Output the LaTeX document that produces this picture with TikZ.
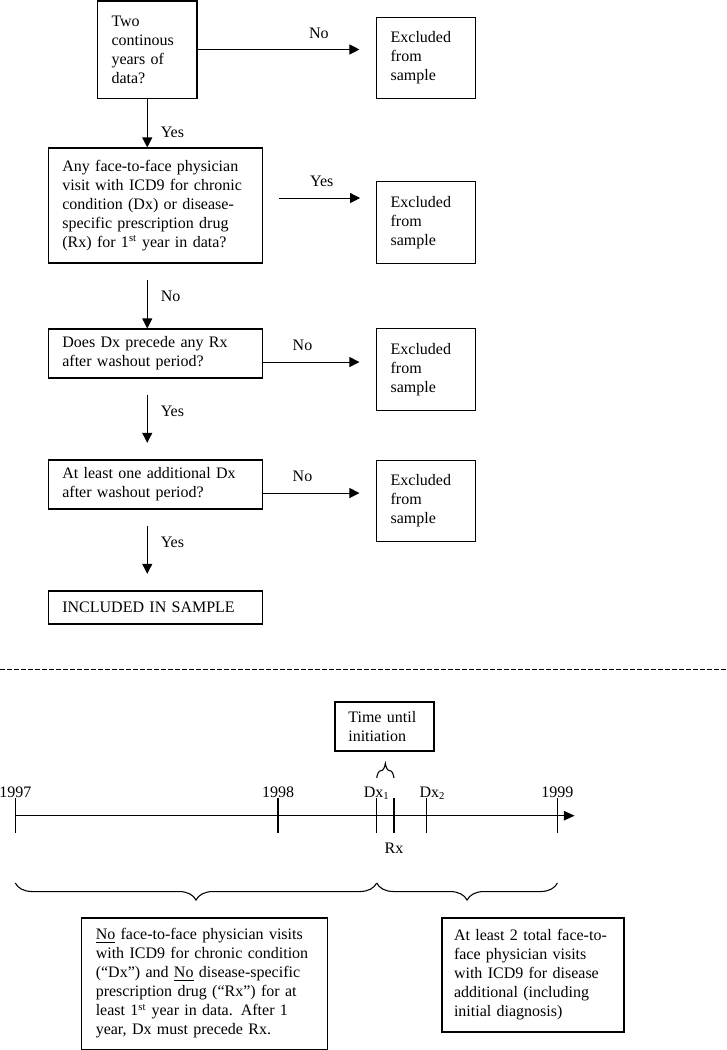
\documentclass[tikz,border=0pt]{standalone}
\usepackage{fontspec}
\setmainfont{Liberation Serif}
\usetikzlibrary{positioning, arrows.meta, decorations.pathreplacing}

\begin{document}
\begin{tikzpicture}[x=0.75pt, y=-0.75pt, font=\fontsize{12}{14.25}\selectfont,
    box/.style={draw, rectangle, line width=0.8pt, align=left, inner xsep=10.5pt, inner ysep=0pt},
    exbox/.style={box, text width=53.2pt, minimum height=61pt},
    flow/.style={line width=0.8pt, -{Triangle[length=7.5pt, width=7.5pt]}},
    lbl/.style={inner sep=2pt},
    tick/.style={line width=0.8pt},
    yr/.style={anchor=base, inner sep=0pt},
    brace/.style={decorate, decoration={brace, amplitude=#1}, line width=0.8pt},
    brace/.default=12.75pt]
        \useasboundingbox (0,0) rectangle (727,1050);

        \node[box, text width=53.6pt, minimum height=72.8pt] (q1) at (147.25,49.5) {Two\\continous\\years of\\data?};
        \node[box, text width=139.5pt, minimum height=86.25pt] (q2) at (155.35,205.5) {Any face-to-face physician\\visit with ICD9 for chronic\\condition (Dx) or disease-\\specific prescription drug\\(Rx) for 1\textsuperscript{st} year in data?};
        \node[box, text width=139.5pt, minimum height=36.75pt] (q3) at (155.35,353.5) {Does Dx precede any Rx\\after washout period?};
        \node[box, text width=139.5pt, minimum height=36.75pt] (q4) at (155.35,484.5) {At least one additional Dx\\after washout period?};
        \node[box, text width=139.5pt, minimum height=24.75pt] (incl) at (155.35,607.5) {INCLUDED IN SAMPLE};

        \node[exbox] (ex1) at (426.1,58) {Excluded\\from\\sample};
        \node[exbox] (ex2) at (426.1,222.5) {Excluded\\from\\sample};
        \node[exbox] (ex3) at (426.1,369.5) {Excluded\\from\\sample};
        \node[exbox] (ex4) at (426.1,501) {Excluded\\from\\sample};

        \coordinate (spine) at (147.25,0);

        \draw[flow, shorten >=12.5pt] (q1.east) -- node[lbl, above=6pt, pos=0.68] {No} (q1.east -| ex1.west);
        \draw[flow, shorten <=12pt, shorten >=12pt] ([yshift=5.6pt]q2.east) -- node[lbl, above=6pt, pos=0.52] {Yes} ([yshift=5.6pt]q2.east -| ex2.west);
        \draw[flow, shorten >=12.5pt] ([yshift=-6.4pt]q3.east) -- node[lbl, above=6pt, pos=0.35] {No} ([yshift=-6.4pt]q3.east -| ex3.west);
        \draw[flow, shorten >=12.5pt] ([yshift=-6.4pt]q4.east) -- node[lbl, above=6pt, pos=0.35] {No} ([yshift=-6.4pt]q4.east -| ex4.west);

        \draw[flow] (q1.south) -- node[lbl, right=7.75pt, pos=0.69] {Yes} (spine |- q2.north);
        \draw[flow, shorten <=12pt] (spine |- q2.south) -- node[lbl, right=7.75pt, pos=0.5] {No} (spine |- q3.north);
        \draw[flow, shorten <=12pt, shorten >=12.5pt] (spine |- q3.south) -- node[lbl, right=7.75pt, pos=0.4] {Yes} (spine |- q4.north);
        \draw[flow, shorten <=12pt, shorten >=12.5pt] (spine |- q4.south) -- node[lbl, right=7.75pt, pos=0.41] {Yes} (spine |- incl.north);

        \draw[line width=0.6pt, dash pattern=on 3.5pt off 1.75pt] (0,669) -- (727,669);

        \coordinate (y97) at (15.3,815.7);
        \coordinate (y98) at (278,815.7);
        \coordinate (dx1) at (376.7,815.7);
        \coordinate (rx) at (394,815.7);
        \coordinate (dx2) at (426.4,815.7);
        \coordinate (y99) at (557.4,815.7);
        \coordinate (tend) at (574.6,815.7);

        \draw[line width=0.9pt, -{Triangle[length=8pt, width=7pt]}] (y97) -- (tend);
        \foreach \t in {y97,y98,dx1,rx,dx2,y99}
            \draw[tick] ([yshift=13pt]\t) -- ([yshift=-13pt]\t);

        \node[yr] (l97) at ([yshift=14pt]y97) {1997};
        \node[yr] (l98) at ([yshift=14pt]y98) {1998};
        \node[yr] (ldx1) at ([yshift=14pt]dx1) {Dx\textsubscript{1}};
        \node[yr] (ldx2) at ([yshift=14pt, xshift=4.5pt]dx2) {Dx\textsubscript{2}};
        \node[yr] (l99) at ([yshift=14pt]y99) {1999};
        \node[yr] (lrx) at ([yshift=-28pt]rx) {Rx};

        \node[box, inner xsep=10pt, text width=54.25pt, minimum height=36.75pt] (wait) at (384.5,726.5) {Time until\\initiation};
        \draw[brace=11pt] ([yshift=28.3pt]dx1) -- ([yshift=28.3pt]rx);

        \draw[brace] ([yshift=-50.5pt]dx1) -- ([yshift=-50.5pt]y97);
        \draw[brace] ([yshift=-50.5pt]y99) -- ([yshift=-50.5pt]dx1);

        \node[box, text width=163.3pt, minimum height=98.3pt] (crit1) at (204.65,983.5) {\underline{No} face-to-face physician visits\\with ICD9 for chronic condition\\(“Dx”) and \underline{No} disease-specific\\prescription drug (“Rx”) for at\\least 1\textsuperscript{st} year in data.  After 1\\year, Dx must precede Rx.};
        \node[box, inner xsep=9pt, text width=118.5pt, minimum height=85.5pt] (crit2) at (533,975) {At least 2 total face-to-\\face physician visits\\with ICD9 for disease\\additional (including\\initial diagnosis)};
      \end{tikzpicture}
\end{document}
